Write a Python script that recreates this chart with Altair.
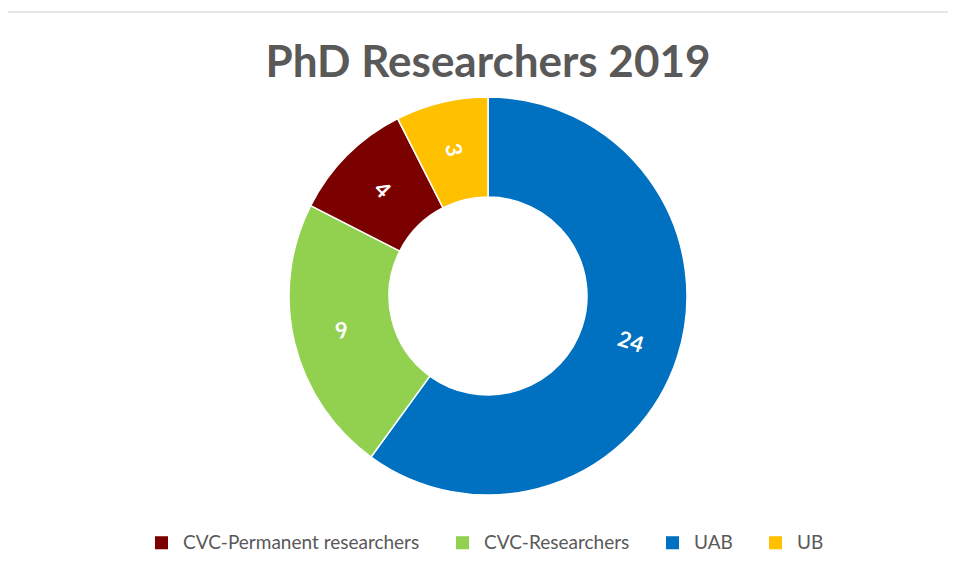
import altair as alt
import pandas as pd

title_text = "PhD Researchers 2019"
categories = ["UAB", "CVC-Researchers", "CVC-Permanent researchers", "UB"]
values = [24, 9, 4, 3]
legend_order = ["CVC-Permanent researchers", "CVC-Researchers", "UAB", "UB"]
colors = ["#7B0000", "#92D050", "#0070C0", "#FFC000"]

df = pd.DataFrame({"category": categories, "value": values, "idx": list(range(len(categories)))})

CX, CY = 480, 288

base = alt.Chart(df).transform_joinaggregate(
    total="sum(value)"
).transform_window(
    cum="sum(value)", sort=[alt.SortField("idx")], frame=[None, 0]
).transform_calculate(
    mid="(datum.cum - datum.value / 2) / datum.total * 360"
).transform_calculate(
    rot="datum.mid - 90 > 90 ? datum.mid - 270 : datum.mid - 90"
)

theta = alt.Theta("value:Q", stack=True)
order = alt.Order("idx:Q")

arc = base.mark_arc(innerRadius=99, outerRadius=199, stroke="white", strokeWidth=1.5,
                    x=CX, y=CY).encode(
    theta=theta,
    order=order,
    color=alt.Color(
        "category:N",
        scale=alt.Scale(domain=legend_order, range=colors),
        legend=alt.Legend(
            orient="none", legendX=144, legendY=525, direction="horizontal", title=None,
            symbolType="square", symbolSize=170, symbolStrokeWidth=0,
            labelFontSize=19, labelFont="Lato", labelColor="#595959", labelLimit=500,
            columnPadding=33, labelOffset=12,
        ),
    ),
)

text = base.mark_text(radius=150, x=CX, y=CY, fontSize=22, fontWeight="bold",
                      color="white", font="Lato").encode(
    theta=theta,
    order=order,
    text="value:Q",
    angle=alt.Angle("rot:Q", scale=None),
)

title = alt.Chart(pd.DataFrame({"t": [title_text]})).mark_text(
    font="Lato", fontSize=44, fontWeight="bold", color="#595959",
    align="center", baseline="alphabetic",
).encode(text="t:N", x=alt.value(480), y=alt.value(69))

frame_line = alt.Chart(pd.DataFrame({"a": [0]})).mark_rule(
    color="#dcdcdc", strokeWidth=1.5
).encode(x=alt.value(-4), x2=alt.value(948), y=alt.value(4))

chart = alt.layer(frame_line, arc, text, title).properties(
    width=940,
    height=565,
    autosize=alt.AutoSizeParams(type="none"),
    padding=0,
).configure_view(stroke=None)

chart.save("out.html", embed_options={"renderer": "svg", "actions": False})
